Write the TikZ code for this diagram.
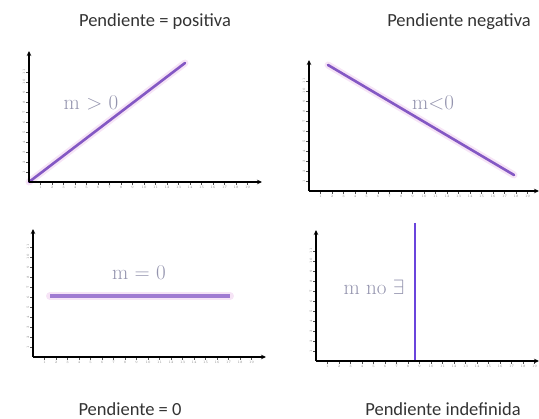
\documentclass[tikz,border=0pt]{standalone}
\usepackage{fontspec}
\newfontfamily\titlefont{Carlito}
\usetikzlibrary{arrows.meta,positioning,calc}
\definecolor{slopeviolet}{HTML}{8458C4}
\definecolor{flatviolet}{HTML}{A07AD2}
\definecolor{vertviolet}{HTML}{6A44DC}
\definecolor{haze}{HTML}{F6E4F6}
\definecolor{mgrey}{HTML}{9494AE}
\tikzset{
  axis/.style={line width=1.4pt, -{Stealth[length=5pt,width=4.5pt]}},
  tickmark/.style={line width=0.4pt, black!70},
  ticklabel/.style={font=\fontsize{3.5}{3.5}\selectfont, text=black!45, inner sep=0.6pt},
  slopeline/.style={line width=2.6pt, draw=slopeviolet, line cap=round},
  glow/.style={line width=7pt, draw=haze, line cap=round},
  title/.style={font=\titlefont\fontsize{18.5}{18.5}\selectfont, text=black!80},
  mlabel/.style={font=\fontsize{21}{21}\selectfont, text=mgrey},
}
\begin{document}
\begin{tikzpicture}[x=1pt,y=-1pt]
  \useasboundingbox (0,0) rectangle (539,419);
  % Pendiente positiva
  \node[title] (t1) at (155,22) {Pendiente = positiva};
  \coordinate (o1) at (29,182);
  \coordinate (xe1) at (262,182);
  \coordinate (ye1) at (29,51);
  \coordinate (p1) at (185,63);
  \foreach \i in {1,...,19}
    \draw[tickmark] ($(o1)+(\i*11.5,0)$) -- ++(0,3) node[ticklabel,below]{\i};
  \foreach \i in {1,...,11}
    \draw[tickmark] ($(o1)+(0,-\i*10)$) -- ++(-3,0) node[ticklabel,left,rotate=90,anchor=south]{\i};
  \draw[glow] (o1) -- (p1);
  \draw[slopeline] (o1) -- (p1);
  \draw[axis] (o1) -- (ye1);
  \draw[axis] (o1) -- (xe1);
  \node[mlabel] (m1) at (91,103) {m > 0};
  % Pendiente negativa
  \node[title] (t2) at (459,22) {Pendiente negativa};
  \coordinate (o2) at (309,191);
  \coordinate (xe2) at (539,191);
  \coordinate (ye2) at (309,60);
  \coordinate (a2) at (328,65);
  \coordinate (b2) at (514,175);
  \foreach \i in {1,...,19}
    \draw[tickmark] ($(o2)+(\i*11.5,0)$) -- ++(0,3) node[ticklabel,below]{\i};
  \foreach \i in {1,...,11}
    \draw[tickmark] ($(o2)+(0,-\i*10)$) -- ++(-3,0) node[ticklabel,left,rotate=90,anchor=south]{\i};
  \draw[glow] (a2) -- (b2);
  \draw[slopeline] (a2) -- (b2);
  \draw[axis] (o2) -- (ye2);
  \draw[axis] (o2) -- (xe2);
  \node[mlabel] (m2) at (433,103) {m<0};
  % Pendiente cero
  \node[title] (t3) at (130,409) {Pendiente = 0};
  \coordinate (o3) at (33,357);
  \coordinate (xe3) at (266,357);
  \coordinate (ye3) at (33,229);
  \coordinate (a3) at (50,296);
  \coordinate (b3) at (230,296);
  \foreach \i in {1,...,19}
    \draw[tickmark] ($(o3)+(\i*11.5,0)$) -- ++(0,3) node[ticklabel,below]{\i};
  \foreach \i in {1,...,11}
    \draw[tickmark] ($(o3)+(0,-\i*10)$) -- ++(-3,0) node[ticklabel,left,rotate=90,anchor=south]{\i};
  \draw[glow,line width=8pt] (a3) -- (b3);
  \draw[slopeline,draw=flatviolet,line width=3.6pt,line cap=butt] (a3) -- (b3);
  \draw[axis] (o3) -- (ye3);
  \draw[axis] (o3) -- (xe3);
  \node[mlabel] (m3) at (139,273) {m = 0};
  % Pendiente indefinida
  \node[title] (t4) at (443,409) {Pendiente indefinida};
  \coordinate (o4) at (316,361);
  \coordinate (xe4) at (539,361);
  \coordinate (ye4) at (316,230);
  \coordinate (a4) at (415,223);
  \foreach \i in {1,...,19}
    \draw[tickmark] ($(o4)+(\i*11.5,0)$) -- ++(0,3) node[ticklabel,below]{\i};
  \foreach \i in {1,...,11}
    \draw[tickmark] ($(o4)+(0,-\i*10)$) -- ++(-3,0) node[ticklabel,left,rotate=90,anchor=south]{\i};
  \draw[slopeline,draw=vertviolet,line width=2.4pt,line cap=butt] (a4) -- (a4 |- o4);
  \draw[axis] (o4) -- (ye4);
  \draw[axis] (o4) -- (xe4);
  \node[mlabel] (m4) at (374,287) {m no $\exists$};
\end{tikzpicture}
\end{document}
